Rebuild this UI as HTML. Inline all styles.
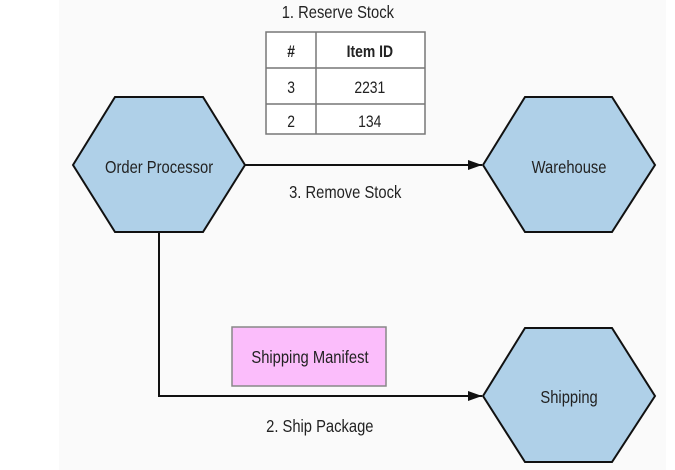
<!DOCTYPE html>
<html><head><meta charset="utf-8"><style>
html,body{margin:0;padding:0;background:#fff;}
svg{display:block;}
text{font-family:"Liberation Sans",sans-serif;fill:#222;}
</style></head><body>
<svg width="675" height="470" viewBox="0 0 675 470" xmlns="http://www.w3.org/2000/svg">
<rect x="59" y="0" width="607" height="470" fill="#fafafa"/>
<defs><marker id="ah" markerWidth="14" markerHeight="10" refX="14" refY="5" orient="auto" markerUnits="userSpaceOnUse"><path d="M0,0 L14,5 L0,10 Z" fill="#111"/></marker></defs>
<g stroke="#777" stroke-width="1.5" fill="#fff">
<rect x="266" y="32" width="159" height="102"/>
<line x1="316" y1="32" x2="316" y2="134"/>
<line x1="266" y1="68" x2="425" y2="68"/>
<line x1="266" y1="104" x2="425" y2="104"/>
</g>
<g transform="scale(0.82,1)">
<text x="412" y="18" font-size="18" text-anchor="middle">1. Reserve Stock</text>
<text x="355" y="57" font-size="17" font-weight="bold" text-anchor="middle">#</text>
<text x="451" y="57" font-size="17" font-weight="bold" text-anchor="middle">Item ID</text>
<text x="355" y="93" font-size="17" text-anchor="middle">3</text>
<text x="451" y="93" font-size="17" text-anchor="middle">2231</text>
<text x="355" y="127" font-size="17" text-anchor="middle">2</text>
<text x="451" y="127" font-size="17" text-anchor="middle">134</text>
<text x="421" y="198" font-size="18" text-anchor="middle">3. Remove Stock</text>
<text x="390" y="432" font-size="18" text-anchor="middle">2. Ship Package</text>
</g>
<line x1="245" y1="165" x2="482" y2="165" stroke="#111" stroke-width="2" marker-end="url(#ah)"/>
<polyline points="159,232 159,396 482,396" fill="none" stroke="#111" stroke-width="2" marker-end="url(#ah)"/>
<g fill="#afd0e8" stroke="#111" stroke-width="2">
<polygon points="73,165 115,97 203,97 245,165 203,232 115,232"/>
<polygon points="483,165 525,97 612,97 655,165 612,232 525,232"/>
<polygon points="483,396 525,328 612,328 655,396 612,462 525,462"/>
</g>
<rect x="232" y="327" width="154" height="59" fill="#fbbdfb" stroke="#888" stroke-width="1.5"/>
<g transform="scale(0.82,1)">
<text x="194" y="173" font-size="18" text-anchor="middle">Order Processor</text>
<text x="694" y="173" font-size="18" text-anchor="middle">Warehouse</text>
<text x="694" y="403" font-size="18" text-anchor="middle">Shipping</text>
<text x="378" y="363" font-size="18" text-anchor="middle">Shipping Manifest</text>
</g>
</svg>
</body></html>
